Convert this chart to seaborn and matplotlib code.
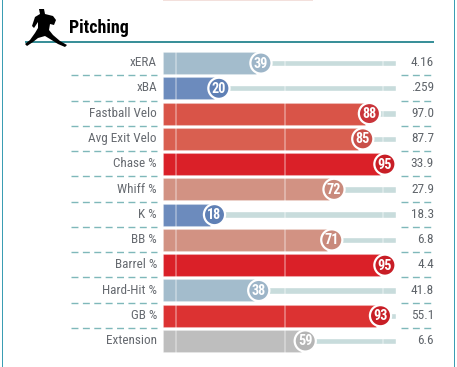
import matplotlib
matplotlib.use("Agg")
import matplotlib.pyplot as plt
from matplotlib.patches import Polygon, Rectangle
from matplotlib import font_manager as fm
import seaborn as sns
import pandas as pd

metrics = ["xERA", "xBA", "Fastball Velo", "Avg Exit Velo", "Chase %", "Whiff %", "K %", "BB %", "Barrel %", "Hard-Hit %", "GB %", "Extension"]
percentiles = [39, 20, 88, 85, 95, 72, 18, 71, 95, 38, 93, 59]
values = ["4.16", ".259", "97.0", "87.7", "33.9", "27.9", "18.3", "6.8", "4.4", "41.8", "55.1", "6.6"]
bar_colors = ["#a3bccc", "#6c8bbd", "#d95448", "#d95f50", "#da2028", "#d29283", "#6c8bbd", "#d29283", "#da2028", "#a3bccc", "#dc3232", "#bebebe"]
dot_colors = ["#9db5c8", "#5f80b5", "#c9343a", "#c9504a", "#c81e26", "#c98a7c", "#5f80b5", "#c98a7c", "#c81e26", "#9db5c8", "#c81e26", "#b5b5b5"]

W, H = 457, 367
names = {f.name for f in fm.fontManager.ttflist}
narrow = next((n for n in ("Roboto Condensed", "Liberation Sans Narrow", "Roboto") if n in names), "DejaVu Sans")

sns.set_theme(style="white")
fig = plt.figure(figsize=(W / 100, H / 100), dpi=100)
fig.patch.set_facecolor("white")

def fx(p): return p / W
def fy(p): return 1 - p / H

ax = fig.add_axes([fx(163), fy(353.6), (396 - 163) / W, (353.6 - 50.4) / H])
df = pd.DataFrame({"metric": metrics, "bar": [p * 0.95 + 3 for p in percentiles]})
rows = range(len(metrics))

ax.barh(list(rows), [100] * len(metrics), height=0.25, color="#c8dcdc", zorder=1)
sns.barplot(data=df, x="bar", y="metric", hue="metric", palette=bar_colors, legend=False,
            width=0.87, ax=ax, zorder=2, saturation=1, edgecolor="#ffffff30", linewidth=0.8)
for x in (5.5, 52.5, 94.5):
    ax.axvline(x, color="white", alpha=0.35, lw=1.3, zorder=3)
ax.scatter([p * 0.95 + 5 for p in percentiles], list(rows), s=232, c=dot_colors,
           edgecolors="white", linewidths=1.6, zorder=4, clip_on=False)
for i, p in enumerate(percentiles):
    ax.text(p * 0.95 + 5, i + 0.02, str(p), ha="center", va="center", color="white",
            fontsize=10.2, fontweight="bold", family=narrow, zorder=5)
ax.set_xlim(0, 100)
ax.set_ylim(len(metrics) - 0.5, -0.5)
ax.set_xlabel("")
ax.set_ylabel("")
ax.set_xticks([])
ax.set_yticks([])
ax.patch.set_alpha(0)
sns.despine(ax=ax, left=True, bottom=True)

for i, (m, v) in enumerate(zip(metrics, values)):
    y = 62.7 + i * 25.27
    fig.text(fx(157), fy(y), m, ha="right", va="center", fontsize=9.5, color="#666a70", family=narrow)
    fig.text(fx(434), fy(y), v, ha="right", va="center", fontsize=9.5, color="#5f646a", family=narrow)
    if i < len(metrics) - 1:
        yy = fy(y + 12.6)
        for a, b in ((71, 157), (401, 434)):
            fig.add_artist(plt.Line2D([fx(a), fx(b)], [yy, yy], transform=fig.transFigure, color="#7fb8ba",
                                      lw=1.0, dashes=(5, 3.2)))

# page frame, header rule, fragment of the section above
fig.add_artist(Rectangle((fx(1.5), 0), 1.8 / W, 1, transform=fig.transFigure, color="#3a9db3", lw=0))
fig.add_artist(Rectangle((fx(453.5), 0), 1.8 / W, 1, transform=fig.transFigure, color="#3a9db3", lw=0))
fig.add_artist(Rectangle((fx(25), fy(43.2)), (434 - 25) / W, 2 / H, transform=fig.transFigure, color="#3a9099", lw=0))
fig.add_artist(Rectangle((fx(163), fy(1.2)), 150 / W, 1.2 / H, transform=fig.transFigure, color="#f3e0dc", lw=0))
fig.text(fx(69), fy(28), "Pitching", ha="left", va="center", fontsize=13, fontweight="bold", color="black", family=narrow)

# pitcher silhouette
outline = [(39, 9), (44, 9), (45, 14), (49, 15), (53, 16), (56, 20), (54, 25), (50, 24), (49, 30), (53, 35), (60, 41), (67, 45), (65, 47),
           (58, 44), (50, 39), (45, 36), (38, 38), (33, 42), (27, 46), (25, 44), (30, 40), (35, 33), (38, 28), (38, 22), (34, 28), (32, 26), (35, 17), (40, 14)]
fig.add_artist(Polygon([(fx(a), fy(b)) for a, b in outline], transform=fig.transFigure, color="black", lw=0, zorder=5))

fig.savefig("out.png", dpi=100)
